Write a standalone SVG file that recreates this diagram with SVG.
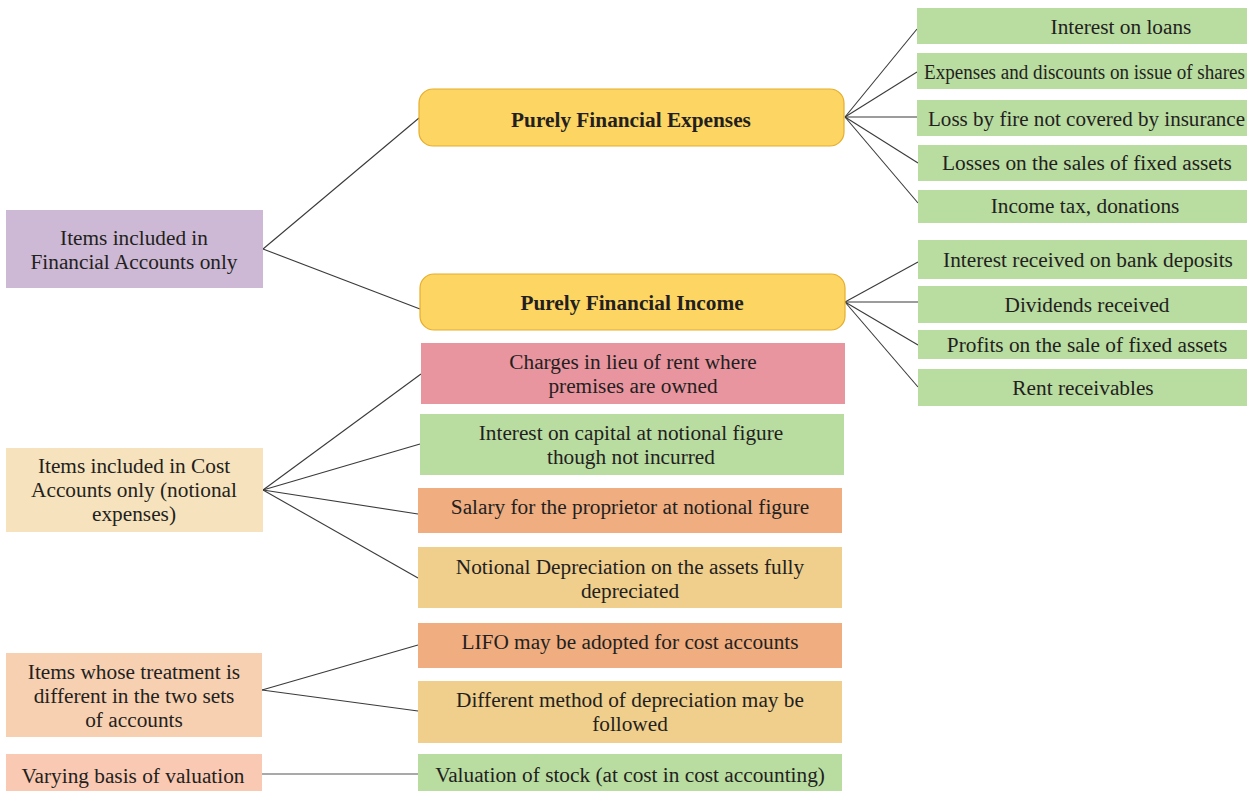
<svg xmlns="http://www.w3.org/2000/svg" width="1247" height="791" viewBox="0 0 1247 791">
<style>
text{font-family:"Liberation Serif","Times New Roman",serif;font-size:21.3px;fill:#231f20;text-anchor:middle}
.b{font-weight:bold}
.c line{stroke:#3a3a3a;stroke-width:1.1}
.purple{fill:#cdb9d5}.yellow{fill:#fdd563;stroke:#e6ae2c;stroke-width:1.2}
.green{fill:#b9dca0}.pink{fill:#e995a0}.salmon{fill:#efad80}.beige{fill:#f0ce8c}
.lbeige{fill:#f6e2bd}.peach{fill:#f7d0b2}.lpink{fill:#fac9b3}
</style>
<g class="c" id="connectors">
<line x1="263" y1="249" x2="419" y2="118"/>
<line x1="263" y1="249" x2="420" y2="309"/>
<line x1="845" y1="117" x2="917" y2="29"/>
<line x1="845" y1="117" x2="917" y2="72"/>
<line x1="845" y1="117" x2="917" y2="117"/>
<line x1="845" y1="117" x2="918" y2="163"/>
<line x1="845" y1="117" x2="918" y2="203"/>
<line x1="845" y1="302" x2="918" y2="262"/>
<line x1="845" y1="302" x2="918" y2="302"/>
<line x1="845" y1="302" x2="918" y2="345"/>
<line x1="845" y1="302" x2="918" y2="387"/>
<line x1="263" y1="490" x2="421" y2="374"/>
<line x1="263" y1="490" x2="420" y2="444"/>
<line x1="263" y1="490" x2="418" y2="514"/>
<line x1="263" y1="490" x2="418" y2="578"/>
<line x1="262" y1="690" x2="418" y2="645"/>
<line x1="262" y1="690" x2="418" y2="711"/>
<line x1="262" y1="774" x2="418" y2="774" style="stroke:#555"/>
</g>
<g id="n-fin-only"><rect class="purple" x="6" y="210" width="257" height="78"/><text x="134" y="245">Items included in</text><text x="134" y="269">Financial Accounts only</text></g>
<g id="n-pfe"><rect class="yellow" x="419" y="89" width="425" height="57" rx="14"/><text class="b" x="631" y="127">Purely Financial Expenses</text></g>
<g id="n-pfi"><rect class="yellow" x="420" y="274" width="425" height="56" rx="14"/><text class="b" x="632" y="310">Purely Financial Income</text></g>
<g id="n-e1"><rect class="green" x="917" y="8" width="330" height="36"/><text x="1121" y="34">Interest on loans</text></g>
<g id="n-e2"><rect class="green" x="917" y="53" width="330" height="36"/><text x="924" y="79" style="text-anchor:start" textLength="321" lengthAdjust="spacingAndGlyphs">Expenses and discounts on issue of shares</text></g>
<g id="n-e3"><rect class="green" x="917" y="100" width="330" height="36"/><text x="928" y="126" style="text-anchor:start" textLength="317" lengthAdjust="spacingAndGlyphs">Loss by fire not covered by insurance</text></g>
<g id="n-e4"><rect class="green" x="918" y="145" width="329" height="36"/><text x="1087" y="170">Losses on the sales of fixed assets</text></g>
<g id="n-e5"><rect class="green" x="918" y="190" width="329" height="33"/><text x="1085" y="213">Income tax, donations</text></g>
<g id="n-i1"><rect class="green" x="918" y="240" width="329" height="39"/><text x="1088" y="267">Interest received on bank deposits</text></g>
<g id="n-i2"><rect class="green" x="918" y="286" width="329" height="37"/><text x="1087" y="312">Dividends received</text></g>
<g id="n-i3"><rect class="green" x="918" y="330" width="329" height="29"/><text x="1087" y="352">Profits on the sale of fixed assets</text></g>
<g id="n-i4"><rect class="green" x="918" y="369" width="329" height="37"/><text x="1083" y="395">Rent receivables</text></g>
<g id="n-cost-only"><rect class="lbeige" x="6" y="448" width="257" height="84"/><text x="134" y="473">Items included in Cost</text><text x="134" y="497">Accounts only (notional</text><text x="134" y="521">expenses)</text></g>
<g id="n-c1"><rect class="pink" x="421" y="343" width="424" height="61"/><text x="633" y="369">Charges in lieu of rent where</text><text x="633" y="393">premises are owned</text></g>
<g id="n-c2"><rect class="green" x="420" y="414" width="424" height="61"/><text x="631" y="440">Interest on capital at notional figure</text><text x="631" y="464">though not incurred</text></g>
<g id="n-c3"><rect class="salmon" x="418" y="488" width="424" height="45"/><text x="630" y="514">Salary for the proprietor at notional figure</text></g>
<g id="n-c4"><rect class="beige" x="418" y="547" width="424" height="61"/><text x="630" y="574">Notional Depreciation on the assets fully</text><text x="630" y="598">depreciated</text></g>
<g id="n-diff"><rect class="peach" x="6" y="653" width="256" height="84"/><text x="134" y="679">Items whose treatment is</text><text x="134" y="703">different in the two sets</text><text x="134" y="727">of accounts</text></g>
<g id="n-d1"><rect class="salmon" x="418" y="623" width="424" height="45"/><text x="630" y="649">LIFO may be adopted for cost accounts</text></g>
<g id="n-d2"><rect class="beige" x="418" y="681" width="424" height="62"/><text x="630" y="707">Different method of depreciation may be</text><text x="630" y="731">followed</text></g>
<g id="n-vary"><rect class="lpink" x="6" y="754" width="256" height="37"/><text x="133" y="783">Varying basis of valuation</text></g>
<g id="n-v1"><rect class="green" x="418" y="754" width="424" height="37"/><text x="630" y="782">Valuation of stock (at cost in cost accounting)</text></g>
</svg>
